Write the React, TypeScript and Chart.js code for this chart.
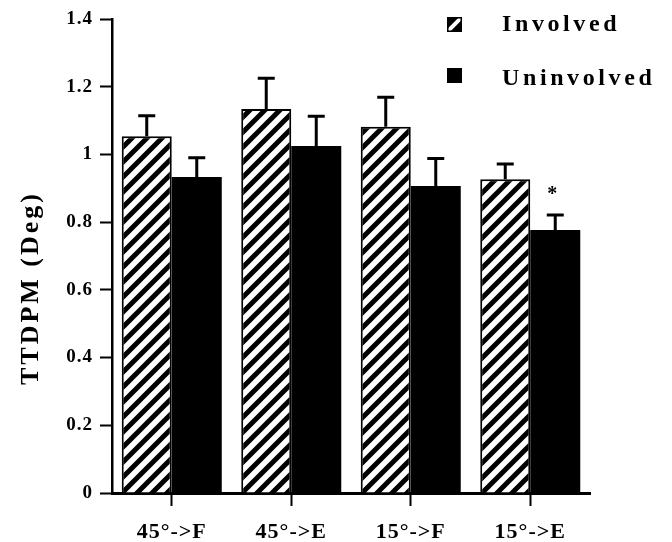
import React, { useEffect, useRef } from "react";
import { Chart, registerables } from "chart.js";

Chart.register(...registerables);

const categories = ["45°->F", "45°->E", "15°->F", "15°->E"];
const seriesNames = ["Involved", "Uninvolved"];
const involved = [1.054, 1.134, 1.082, 0.927];
const involvedErr = [0.06, 0.091, 0.087, 0.045];
const uninvolved = [0.933, 1.025, 0.907, 0.777];
const uninvolvedErr = [0.057, 0.088, 0.081, 0.044];
const uninvolvedMarks = ["", "", "", "*"];
const yTicks = [0, 0.2, 0.4, 0.6, 0.8, 1, 1.2, 1.4];
const yTickLabels = ["0", "0.2", "0.4", "0.6", "0.8", "1", "1.2", "1.4"];
const yTitle = "TTDPM (Deg)";

const FONT = "'Liberation Serif', 'Times New Roman', serif";

function makeHatchTile(): HTMLCanvasElement {
  const c = document.createElement("canvas");
  c.width = 15;
  c.height = 15;
  const g = c.getContext("2d") as CanvasRenderingContext2D;
  g.fillStyle = "#fff";
  g.fillRect(0, 0, 15, 15);
  g.strokeStyle = "#000";
  g.lineWidth = 5;
  g.beginPath();
  g.moveTo(-5, 20);
  g.lineTo(20, -5);
  g.moveTo(-5, 5);
  g.lineTo(5, -5);
  g.moveTo(10, 20);
  g.lineTo(20, 10);
  g.stroke();
  return c;
}

export default function App() {
  const ref = useRef<HTMLCanvasElement | null>(null);

  useEffect(() => {
    document.body.style.margin = "0";
    const canvas = ref.current;
    if (!canvas) return;
    const ctx0 = canvas.getContext("2d") as CanvasRenderingContext2D;
    const tile = makeHatchTile();
    const hatch = ctx0.createPattern(tile, "repeat") as CanvasPattern;
    const errs = [involvedErr, uninvolvedErr];
    const marks = [["", "", "", ""], uninvolvedMarks];

    const spacingPlugin = {
      id: "spacing",
      beforeDraw(chart: any) {
        (chart.ctx as any).letterSpacing = "1px";
      },
    };

    const extrasPlugin = {
      id: "extras",
      afterDatasetsDraw(chart: any) {
        const ctx = chart.ctx as CanvasRenderingContext2D;
        const ys = chart.scales.y;
        chart.data.datasets.forEach((ds: any, i: number) => {
          const meta = chart.getDatasetMeta(i);
          meta.data.forEach((el: any, j: number) => {
            const v = ds.data[j];
            const top = ys.getPixelForValue(v + errs[i][j]);
            ctx.save();
            ctx.strokeStyle = "#000";
            ctx.lineWidth = 3;
            ctx.beginPath();
            ctx.moveTo(el.x, el.y);
            ctx.lineTo(el.x, top);
            ctx.moveTo(el.x - 8.5, top);
            ctx.lineTo(el.x + 8.5, top);
            ctx.stroke();
            const m = marks[i][j];
            if (m) {
              (ctx as any).letterSpacing = "0px";
              ctx.fillStyle = "#000";
              ctx.font = `bold 20px ${FONT}`;
              ctx.textAlign = "center";
              ctx.textBaseline = "alphabetic";
              ctx.fillText(m, el.x - 3, top - 15);
            }
            ctx.restore();
          });
        });
      },
      afterDraw(chart: any) {
        const ctx = chart.ctx as CanvasRenderingContext2D;
        // y axis title
        ctx.save();
        (ctx as any).letterSpacing = "3px";
        ctx.fillStyle = "#000";
        ctx.font = `bold 26px ${FONT}`;
        ctx.translate(38, 288);
        ctx.rotate(-Math.PI / 2);
        ctx.textAlign = "center";
        ctx.textBaseline = "alphabetic";
        ctx.fillText(yTitle, 0, 0);
        ctx.restore();

        // legend
        const items = [
          { box: [447, 17], base: 31 },
          { box: [447, 68], base: 85 },
        ];
        chart.data.datasets.forEach((ds: any, i: number) => {
          const it = items[i];
          const bx = it.box[0];
          const by = it.box[1];
          ctx.save();
          ctx.fillStyle = "#000";
          ctx.fillRect(bx, by, 15, 15);
          if (i === 0) {
            ctx.beginPath();
            ctx.rect(bx + 1.5, by + 1.5, 12, 12);
            ctx.clip();
            ctx.strokeStyle = "#fff";
            ctx.lineWidth = 4;
            ctx.beginPath();
            ctx.moveTo(bx - 1, by + 16);
            ctx.lineTo(bx + 16, by - 1);
            ctx.stroke();
          }
          ctx.restore();
          ctx.save();
          (ctx as any).letterSpacing = "3.6px";
          ctx.fillStyle = "#000";
          ctx.font = `bold 24px ${FONT}`;
          ctx.textAlign = "left";
          ctx.textBaseline = "alphabetic";
          ctx.fillText(ds.label, 502, it.base);
          ctx.restore();
        });
      },
    };

    const chart = new Chart(canvas, {
      type: "bar",
      data: {
        labels: categories,
        datasets: [
          {
            label: seriesNames[0],
            data: involved,
            backgroundColor: hatch,
            borderColor: "#000",
            borderWidth: 2,
            borderSkipped: "start",
            categoryPercentage: 0.837,
            barPercentage: 1.0,
          },
          {
            label: seriesNames[1],
            data: uninvolved,
            backgroundColor: "#000",
            borderWidth: 0,
            categoryPercentage: 0.837,
            barPercentage: 1.0,
          },
        ],
      },
      options: {
        responsive: false,
        animation: false,
        devicePixelRatio: 1,
        layout: { padding: { left: 0, right: 82, top: 19, bottom: 0 } },
        plugins: {
          legend: { display: false },
          tooltip: { enabled: false },
          title: { display: false },
        },
        scales: {
          x: {
            offset: true,
            grid: {
              offset: false,
              drawOnChartArea: false,
              drawTicks: true,
              tickLength: 13,
              tickWidth: 2,
              tickColor: "#000",
            },
            border: { display: true, color: "#000", width: 3 },
            ticks: {
              color: "#000",
              font: { family: FONT, size: 22, weight: "bold" },
              padding: 13,
              maxRotation: 0,
              autoSkip: false,
            },
            afterFit: (s: any) => {
              s.height = 49;
            },
          },
          y: {
            min: 0,
            max: 1.4,
            afterBuildTicks: (s: any) => {
              s.ticks = yTicks.map((v) => ({ value: v }));
            },
            ticks: {
              color: "#000",
              font: { family: FONT, size: 19, weight: "bold" },
              padding: 7,
              callback: (_v: any, idx: number) => yTickLabels[idx],
            },
            grid: {
              drawOnChartArea: false,
              drawTicks: true,
              tickLength: 12,
              tickWidth: 2,
              tickColor: "#000",
            },
            border: { display: true, color: "#000", width: 2.5 },
            afterFit: (s: any) => {
              s.width = 112;
            },
          },
        },
      } as any,
      plugins: [spacingPlugin, extrasPlugin],
    });

    return () => chart.destroy();
  }, []);

  return (
    <div style={{ width: 672, height: 542 }}>
      <canvas ref={ref} width={672} height={542} style={{ display: "block" }} />
    </div>
  );
}
